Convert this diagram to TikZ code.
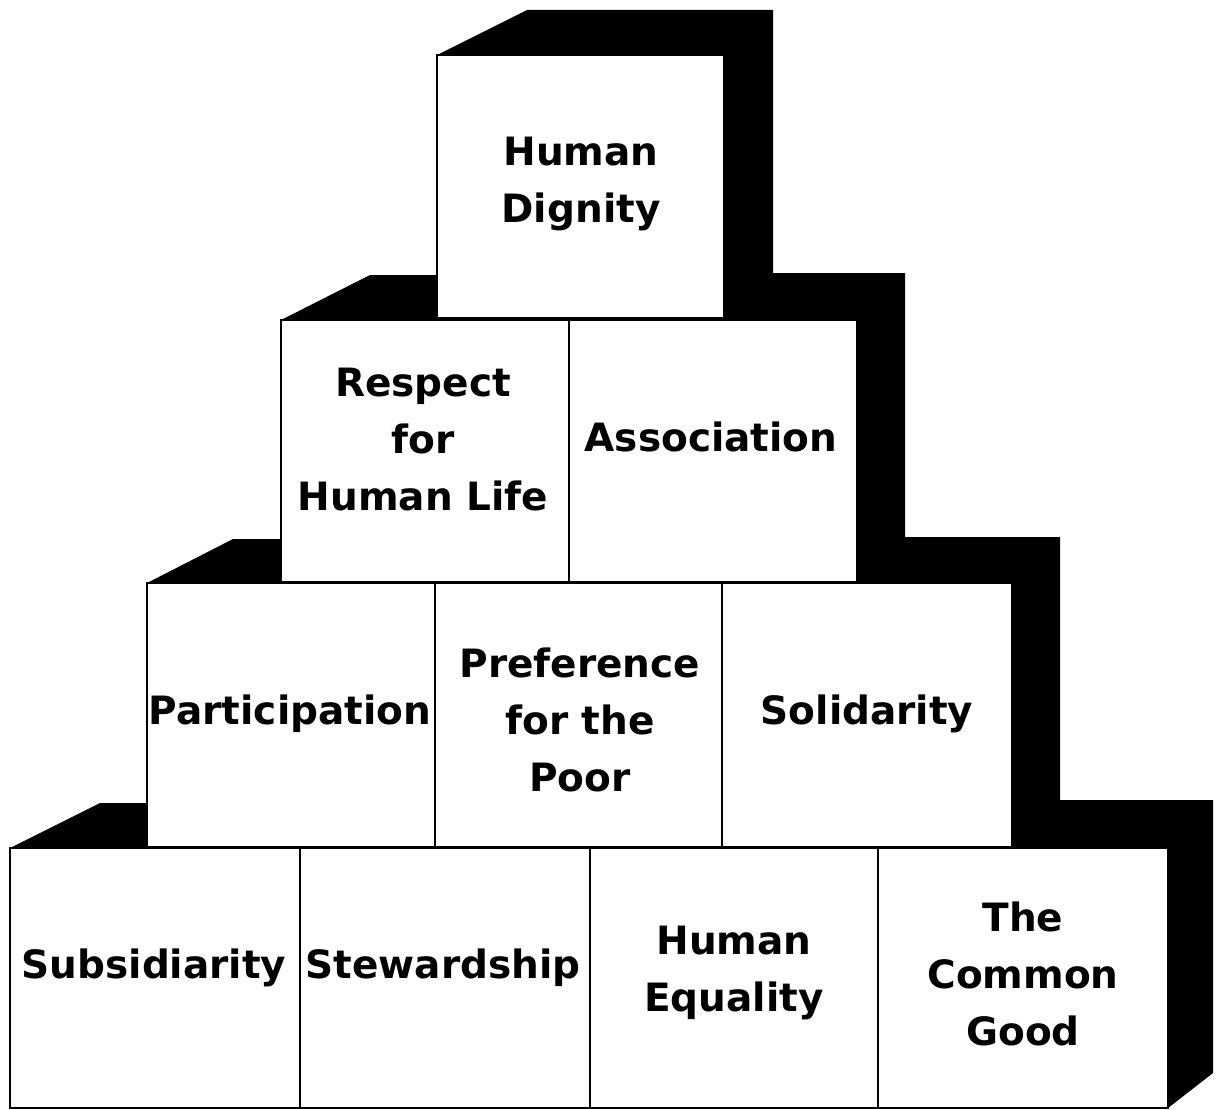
\documentclass[tikz,border=0pt]{standalone}
\usepackage{fontspec}
\setmainfont{DejaVu Sans}
\begin{document}
\begin{tikzpicture}[x=1pt,y=-1pt,
  face/.style={draw=black,fill=white,line width=2pt},
  lbl/.style={font=\bfseries\fontsize{39}{57}\selectfont,align=center,inner sep=0pt,text=black}]
\useasboundingbox (0,0) rectangle (1217,1110);
% black shadow / depth
\fill[black] (10,848) -- (100,803) -- (147,803) -- (147,583) -- (233,539) -- (281,539)
  -- (281,320) -- (370,275) -- (437,275) -- (437,55) -- (527,10) -- (773,10)
  -- (773,273) -- (905,273) -- (905,537) -- (1060,537) -- (1060,800) -- (1213,800)
  -- (1213,1073) -- (1168,1108) -- (10,1108) -- cycle;
% front faces
\draw[face] (437,55) rectangle (724,318);
\draw[face] (281,320) rectangle (569,582);
\draw[face] (569,320) rectangle (857,582);
\draw[face] (147,583) rectangle (435,847);
\draw[face] (435,583) rectangle (722,847);
\draw[face] (722,583) rectangle (1012,847);
\draw[face] (10,848) rectangle (300,1108);
\draw[face] (300,848) rectangle (590,1108);
\draw[face] (590,848) rectangle (878,1108);
\draw[face] (878,848) rectangle (1168,1108);
% labels
\node[lbl] (dignity) at (581,184) {Human\\Dignity};
\node[lbl] (respect) at (423,440) {Respect\\for\\Human Life};
\node[lbl] (assoc) at (711,437) {Association};
\node[lbl] (partic) at (290,714) {Participation};
\node[lbl] (pref) at (580,720) {Preference\\for the\\Poor};
\node[lbl] (solid) at (867,714) {Solidarity};
\node[lbl] (subsid) at (154,968) {Subsidiarity};
\node[lbl] (stew) at (443,968) {Stewardship};
\node[lbl] (equal) at (734,973) {Human\\Equality};
\node[lbl] (common) at (1023,974) {The\\Common\\Good};
\end{tikzpicture}
\end{document}
